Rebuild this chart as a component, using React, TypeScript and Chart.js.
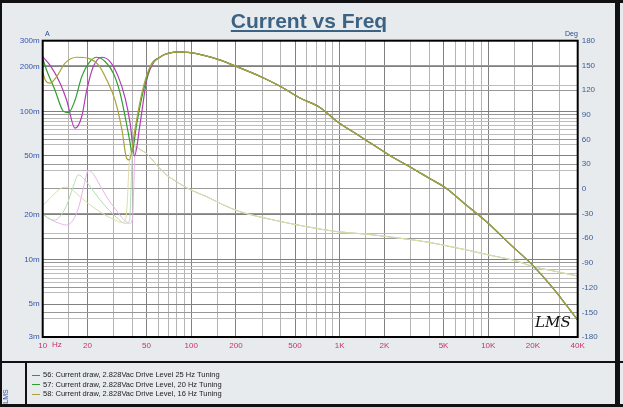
import { useEffect, useRef } from "react"
import { Chart, registerables } from "chart.js"

Chart.register(...registerables)

// current magnitude (A), low-frequency part of each curve
const magFreq56 = [10, 11.2, 13.1, 14.5, 16.5, 18.3, 19.8, 21.9, 25, 28.4, 32.3, 35.9, 38.8, 41.5, 45.3, 50.2, 57.2]
const mag56 = [0.234, 0.205, 0.155, 0.119, 0.077, 0.092, 0.139, 0.2, 0.232, 0.217, 0.171, 0.123, 0.083, 0.05, 0.083, 0.163, 0.222]

const magFreq57 = [10, 10.6, 12.1, 13.8, 14.9, 16.5, 18.3, 20.8, 23.1, 26.3, 29.9, 33.2, 35.9, 38.8, 39.8, 43, 47.7, 54.4]
const mag57 = [0.228, 0.191, 0.139, 0.1, 0.098, 0.119, 0.171, 0.217, 0.232, 0.217, 0.181, 0.133, 0.092, 0.061, 0.053, 0.083, 0.139, 0.211]

const magFreq58 = [10, 10.4, 11.2, 12.4, 14.1, 16.9, 20.3, 23.7, 27, 30.7, 34.1, 36.8, 38.4, 41.8, 46.5, 52.8]
const mag58 = [0.185, 0.163, 0.155, 0.171, 0.211, 0.232, 0.228, 0.206, 0.163, 0.119, 0.076, 0.048, 0.047, 0.076, 0.133, 0.2]

// above ~60 Hz the three magnitude curves lie on top of each other
const magFreqHigh = [60, 65, 72, 82, 95, 120, 157, 214, 300, 400, 540, 740, 960, 1400, 2200, 3000, 4000, 5200, 7000, 9900, 14000, 20000, 27700, 40000]
const magHigh = [0.228, 0.24, 0.248, 0.252, 0.25, 0.24, 0.222, 0.196, 0.17, 0.147, 0.123, 0.106, 0.0855, 0.067, 0.05, 0.042, 0.0354, 0.0303, 0.0236, 0.0177, 0.0127, 0.0091, 0.0063, 0.0039]

// phase (deg), low-frequency part
const phaseFreq56 = [10, 11.5, 13, 14.5, 16, 17.5, 19, 20.3, 21.5, 24, 27, 31, 35, 38.5, 40.3, 41, 41.7, 42.5]
const phase56 = [-31, -38, -42, -44, -38, -22, 5, 22, 20, 6, -10, -25, -37, -42, -35, 0, 40, 51]

const phaseFreq57 = [10, 11, 12, 13, 14.5, 16, 17.4, 19, 21, 24, 28, 32, 36, 38.5, 39.3, 40, 41, 42]
const phase57 = [-30, -36, -38, -34, -20, 2, 17, 12, 2, -12, -26, -36, -42, -38, 0, 38, 50, 52]

const phaseFreq58 = [10, 11, 12, 13.4, 14.5, 16, 18, 20, 23, 27, 31, 34, 36, 37, 37.8, 38.6, 40, 42]
const phase58 = [-20, -13, -6, 1, 2, -2, -10, -17, -25, -33, -38, -41, -38, -20, 15, 42, 50, 52]

const phaseFreqHigh = [45, 50, 58.6, 68, 76, 98.6, 127, 165, 213, 358, 600, 958, 1500, 2550, 4000, 5500, 7500, 9900, 15700, 20000, 28000, 40000]
const phaseHigh = [48, 43, 29, 17, 11, -1, -9.5, -19.6, -27.7, -37.8, -46, -52, -55, -60, -65, -70, -75, -80, -88, -94.5, -100, -106]

const seriesNames = [
  "56: Current draw, 2.828Vac Drive Level 25 Hz Tuning",
  "57: Current draw, 2.828Vac Drive Level, 20 Hz Tuning",
  "58: Current draw, 2.828Vac Drive Level, 16 Hz Tuning",
]
const seriesColors = ["#b23cb4", "#2f9e2f", "#aaa23a"]
const phaseColors = ["#e8b4e8", "#b0deb0", "#dcdca6"]

const xLabelValues = [10, 20, 50, 100, 200, 500, 1000, 2000, 5000, 10000, 20000, 40000]
const xLabelTexts = ["10", "20", "50", "100", "200", "500", "1K", "2K", "5K", "10K", "20K", "40K"]
const yLabelValues = [0.3, 0.2, 0.1, 0.05, 0.02, 0.01, 0.005, 0.003]
const yLabelTexts = ["300m", "200m", "100m", "50m", "20m", "10m", "5m", "3m"]

const xGridSteps = [1, 1.5, 2, 3, 4, 5, 6, 7, 8, 9]
const yGridSteps = [1, 1.5, 2, 3, 4, 5, 6, 6.5, 7, 7.5, 8, 8.5, 9, 9.5]

const round = (v: number) => Number(v.toPrecision(6))
const near = (a: number, b: number) => Math.abs(a - b) / b < 1e-6

const xGrid: number[] = []
for (const d of [10, 100, 1000, 10000]) {
  for (const m of xGridSteps) {
    const v = round(d * m)
    if (v <= 40000) xGrid.push(v)
  }
}

const yGrid: number[] = []
for (const d of [0.001, 0.01, 0.1]) {
  for (const m of yGridSteps) {
    const v = round(d * m)
    if (v >= 0.003 - 1e-9 && v <= 0.3 + 1e-9) yGrid.push(v)
  }
}

const toPoints = (xs: number[], ys: number[]) => xs.map((x, i) => ({ x, y: ys[i] }))

const font = "'Liberation Sans', Arial, sans-serif"

const plotDecor = {
  id: "plotDecor",
  beforeDraw(chart: any) {
    const { ctx, chartArea: a } = chart
    ctx.save()
    ctx.fillStyle = "#ffffff"
    ctx.fillRect(a.left, a.top, a.right - a.left, a.bottom - a.top)
    ctx.restore()
  },
  afterDraw(chart: any) {
    const { ctx, chartArea: a } = chart
    ctx.save()
    ctx.strokeStyle = "#000000"
    ctx.lineWidth = 2
    ctx.strokeRect(a.left, a.top, a.right - a.left, a.bottom - a.top)
    ctx.fillStyle = "#111111"
    ctx.font = "italic 15px 'DejaVu Serif', serif"
    ctx.textAlign = "right"
    ctx.textBaseline = "alphabetic"
    ctx.fillText("LMS", a.right - 7, a.bottom - 10)
    ctx.restore()
  },
}

export default function App() {
  const chartRef = useRef<HTMLCanvasElement>(null)
  const chartInstance = useRef<Chart | null>(null)

  useEffect(() => {
    document.body.style.margin = "0"
    if (!chartRef.current) return
    const ctx = chartRef.current.getContext("2d")
    if (!ctx) return
    if (chartInstance.current) chartInstance.current.destroy()

    const magLow = [toPoints(magFreq56, mag56), toPoints(magFreq57, mag57), toPoints(magFreq58, mag58)]
    const phaseLow = [toPoints(phaseFreq56, phase56), toPoints(phaseFreq57, phase57), toPoints(phaseFreq58, phase58)]
    const magTail = toPoints(magFreqHigh, magHigh)
    const phaseTail = toPoints(phaseFreqHigh, phaseHigh)

    const order = [2, 1, 0]
    const magSets = order.map((i) => ({
      label: seriesNames[i],
      data: [...magLow[i], ...magTail],
      borderColor: seriesColors[i],
      borderWidth: 1.2,
      yAxisID: "y",
    }))
    const phaseSets = order.map((i) => ({
      label: seriesNames[i] + " phase",
      data: [...phaseLow[i], ...phaseTail],
      borderColor: phaseColors[i],
      borderWidth: 1,
      yAxisID: "y1",
    }))

    chartInstance.current = new Chart(ctx, {
      type: "line",
      data: { datasets: [...magSets, ...phaseSets] as any },
      options: {
        animation: false,
        responsive: true,
        maintainAspectRatio: false,
        layout: { padding: { top: 40.7, left: 0, right: 0, bottom: 45 } },
        elements: {
          point: { radius: 0 },
          line: { cubicInterpolationMode: "monotone" },
        },
        plugins: {
          legend: { display: false },
          tooltip: { enabled: false },
        },
        scales: {
          x: {
            type: "logarithmic",
            min: 10,
            max: 40000,
            afterBuildTicks: (scale: any) => {
              scale.ticks = xGrid.map((v) => ({ value: v }))
            },
            afterFit: (scale: any) => {
              scale.height = 25
            },
            border: { display: false },
            grid: {
              drawTicks: false,
              color: (c: any) => {
                const v = c.tick ? c.tick.value : 0
                return xLabelValues.some((l) => near(v, l)) ? "#808080" : "#b4b4b4"
              },
            },
            ticks: {
              autoSkip: false,
              maxRotation: 0,
              padding: 4,
              color: "#c8306a",
              font: { family: font, size: 8 },
              callback: (value: any) => {
                const k = xLabelValues.findIndex((l) => near(Number(value), l))
                return k >= 0 ? xLabelTexts[k] : ""
              },
            },
          },
          y: {
            type: "logarithmic",
            position: "left",
            min: 0.003,
            max: 0.3,
            afterBuildTicks: (scale: any) => {
              scale.ticks = yGrid.map((v) => ({ value: v }))
            },
            afterFit: (scale: any) => {
              scale.width = 42.7
            },
            border: { display: false },
            grid: {
              drawTicks: false,
              color: (c: any) => {
                const v = c.tick ? c.tick.value : 0
                return yLabelValues.some((l) => near(v, l)) ? "#808080" : "#bcbcbc"
              },
            },
            ticks: {
              autoSkip: false,
              padding: 3,
              color: "#3555a8",
              font: { family: font, size: 8 },
              callback: (value: any) => {
                const k = yLabelValues.findIndex((l) => near(Number(value), l))
                return k >= 0 ? yLabelTexts[k] : ""
              },
            },
          },
          y1: {
            type: "linear",
            position: "right",
            min: -180,
            max: 180,
            afterFit: (scale: any) => {
              scale.width = 45.3
            },
            border: { display: false },
            grid: { drawTicks: false, color: "#989898" },
            ticks: {
              stepSize: 30,
              padding: 4,
              color: "#3d5c95",
              font: { family: font, size: 8 },
            },
          },
        },
      },
      plugins: [plotDecor],
    })

    return () => {
      if (chartInstance.current) {
        chartInstance.current.destroy()
        chartInstance.current = null
      }
    }
  }, [])

  const small = { position: "absolute" as const, fontFamily: font, lineHeight: "9px", whiteSpace: "nowrap" as const }

  return (
    <div style={{ position: "relative", width: 623, height: 407, background: "#e7ebee", overflow: "hidden" }}>
      <div style={{ position: "absolute", left: 0, top: 0, width: 623, height: 407 }}>
        <canvas ref={chartRef} aria-label="Current vs Freq chart" role="img"></canvas>
      </div>
      <div
        style={{
          position: "absolute",
          left: 0,
          top: 10,
          width: 618,
          textAlign: "center",
          fontFamily: font,
          fontWeight: "bold",
          fontSize: 21,
          lineHeight: "22px",
          color: "#3c6384",
          textDecoration: "underline",
          textDecorationThickness: "2px",
          textUnderlineOffset: "2px",
        }}
      >
        Current vs Freq
      </div>
      <div style={{ ...small, left: 45, top: 29, fontSize: 7, color: "#2a4a8a" }}>A</div>
      <div style={{ ...small, left: 565, top: 29, fontSize: 7, color: "#2a4a8a" }}>Deg</div>
      <div style={{ ...small, left: 52, top: 340, fontSize: 8, color: "#c8306a" }}>Hz</div>

      {/* legend panel */}
      <div style={{ position: "absolute", left: 0, top: 361, width: 623, height: 2, background: "#111" }} />
      <div style={{ position: "absolute", left: 25, top: 362, width: 2, height: 43, background: "#111" }} />
      {seriesNames.map((name, i) => (
        <div key={name} style={{ ...small, left: 32, top: 370 + i * 9.5, fontSize: 7.5, color: "#222" }}>
          <span
            style={{
              display: "inline-block",
              width: 8,
              height: 1,
              background: seriesColors[i],
              verticalAlign: "middle",
              marginRight: 3,
            }}
          />
          {name}
        </div>
      ))}
      <div
        style={{
          ...small,
          left: -2,
          top: 392,
          fontSize: 7,
          color: "#3555a8",
          transform: "rotate(-90deg)",
        }}
      >
        LMS
      </div>

      {/* outer frame */}
      <div style={{ position: "absolute", left: 0, top: 0, width: 623, height: 3, background: "#111" }} />
      <div style={{ position: "absolute", left: 0, top: 404, width: 623, height: 3, background: "#111" }} />
      <div style={{ position: "absolute", left: 0, top: 0, width: 2, height: 407, background: "#111" }} />
      <div style={{ position: "absolute", left: 615, top: 0, width: 5, height: 407, background: "#111" }} />
    </div>
  )
}
